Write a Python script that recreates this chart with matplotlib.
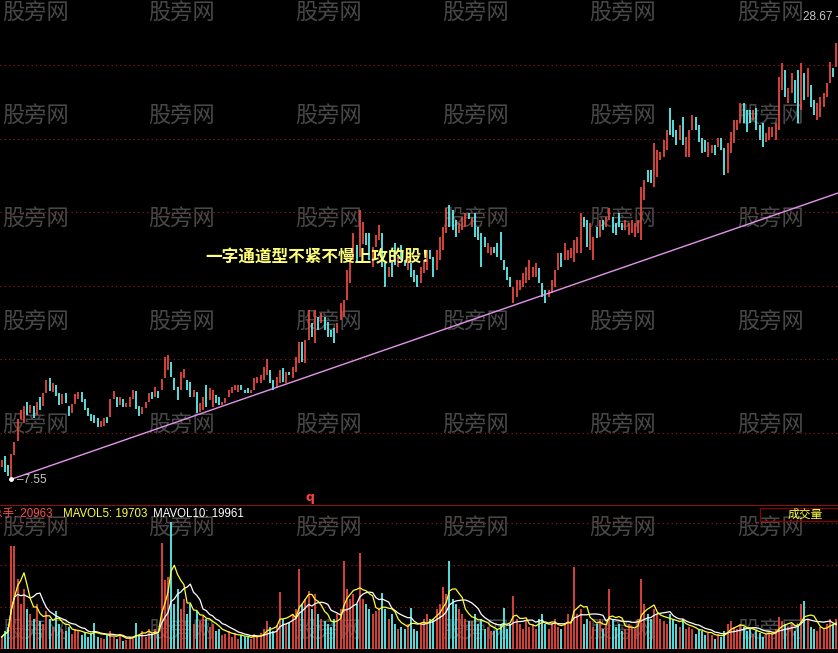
import numpy as np
import pandas as pd
import matplotlib
matplotlib.use("Agg")
import matplotlib.pyplot as plt
from matplotlib.patches import Rectangle

# =============================
# Data
# =============================
opens = [
    8.10, 8.60, 8.20, 7.55, 8.65, 9.30, 10.30, 10.10, 11.10, 10.60,
    10.90, 10.50, 11.30, 10.90, 11.50, 12.20, 11.55, 11.85, 11.50, 11.00,
    11.50, 10.90, 10.60, 11.00, 11.20, 11.55, 11.20, 10.80, 10.55, 10.50,
    10.35, 9.95,
    10.00, 10.40, 10.40, 11.20, 11.30, 10.95, 11.20, 10.85,
    10.85, 11.20, 11.60, 10.90, 10.55, 10.80, 11.10, 11.55, 11.30, 11.60, 11.65, 12.20,
    12.54, 12.91, 12.18, 11.76, 11.63, 12.20, 12.08, 11.99, 11.31, 11.54,
    10.62, 10.71, 11.86, 11.17, 10.85, 11.40, 11.31, 10.94,
    11.03, 11.31, 11.49, 11.63, 11.54, 11.86, 11.63,
    11.72, 11.49, 11.63, 11.95, 11.95, 12.08, 12.31, 12.54, 12.08, 11.76, 11.95, 12.63, 11.95, 12.45,
    12.18, 12.45, 12.86, 13.82, 12.86, 13.91, 14.69, 13.78, 14.96, 14.69, 14.96, 14.73, 14.37, 14.46, 14.23,
    14.83, 14.96, 15.74, 16.52, 17.57, 18.25, 17.70, 18.30, 18.80, 18.80, 17.25, 18.16,
    18.48, 18.80, 17.43, 16.79, 17.48, 18.34, 17.25, 18.25, 17.57,
    17.11, 17.43, 17.11, 16.88, 16.52, 16.97, 17.11, 18.02,
    17.70, 17.11, 17.57, 18.02, 18.80, 20.08, 19.85, 19.40, 18.80, 18.94, 19.08, 19.72,
    19.08, 19.72, 19.08, 18.80, 18.62, 17.89, 17.80, 18.16,
    18.34, 18.85, 17.57, 17.25, 16.79, 15.60, 15.88, 16.20, 16.33, 16.52,
    16.65, 16.79, 16.79, 17.20, 16.52, 16.20, 15.88, 16.06, 16.33,
    17.11, 17.89, 17.57, 17.57, 17.66, 17.48, 17.89, 17.89, 19.53, 19.40,
    18.02, 17.57, 19.08, 18.62, 19.40, 19.08, 19.40, 19.53, 19.26, 19.72,
    19.26, 18.94, 18.71, 18.80, 18.62, 18.80, 18.48, 20.31, 21.68, 21.68,
    20.90, 21.36, 22.14, 22.27, 22.59, 24.51, 23.96,
    23.51, 23.05, 24.10, 22.27, 22.27, 23.51, 24.10,
    23.74, 23.14, 23.05, 22.27, 22.46, 22.82, 22.73,
    23.14, 22.69, 21.54, 22.46, 22.91, 23.51, 23.83, 24.74, 24.42, 24.42,
    23.96, 24.51, 23.74, 23.83, 22.96, 23.05, 23.19, 23.05, 23.51,
    25.34, 26.25, 24.74, 25.20, 25.79, 26.25, 24.42, 26.11,
    25.02, 25.56, 24.88, 23.96, 24.10, 24.56, 25.02, 25.66, 26.34, 26.39,
]
closes = [
    8.45, 7.90, 7.70, 8.70, 9.25, 10.30, 10.70, 10.90, 10.50, 10.95,
    10.35, 11.10, 10.70, 11.50, 12.10, 11.60, 11.95, 11.35, 10.95, 11.45,
    11.05, 10.45, 11.00, 11.45, 11.55, 11.10, 10.70, 10.45, 10.20, 10.10,
    9.95, 10.20,
    10.35, 10.10, 11.20, 11.60, 10.85, 11.30, 10.85, 11.05,
    11.30, 11.65, 10.75, 10.45, 10.85, 11.10, 11.50, 11.20, 11.75, 11.25, 12.15, 13.15,
    13.22, 12.22, 11.62, 11.17, 12.45, 12.60, 11.62, 11.31, 11.62, 10.58,
    11.03, 11.31, 10.85, 11.72, 11.63, 11.03, 10.94, 11.10,
    11.26, 11.63, 11.76, 11.86, 11.86, 11.63, 11.50,
    11.49, 11.63, 12.18, 12.22, 12.31, 12.68, 13.04, 11.95, 11.63, 12.22, 12.54, 11.99, 12.45, 12.30,
    12.68, 13.13, 13.82, 12.91, 13.91, 15.28, 14.05, 15.28, 14.37, 15.14, 14.37, 14.05, 14.05, 13.78, 14.69,
    15.60, 15.74, 17.11, 17.57, 18.80, 17.48, 19.85, 19.30, 18.25, 17.57, 18.16, 18.70,
    19.16, 17.25, 16.33, 17.25, 16.79, 17.34, 17.70, 17.57, 17.30,
    17.70, 16.79, 16.56, 16.33, 17.25, 17.57, 18.02, 17.60,
    16.79, 18.02, 18.62, 19.07, 19.94, 19.07, 18.94, 18.62, 19.26, 19.53, 19.72, 19.45,
    19.53, 18.62, 18.48, 17.25, 18.16, 18.34, 18.16, 17.90,
    17.70, 17.57, 17.11, 16.65, 16.33, 16.33, 16.65, 16.65, 16.97, 17.25,
    17.57, 17.25, 17.43, 16.52, 15.88, 15.60, 16.20, 16.65, 17.11,
    17.89, 17.25, 18.34, 18.02, 18.12, 18.48, 18.62, 19.72, 19.08, 18.16,
    19.26, 18.62, 18.57, 19.40, 18.94, 19.53, 19.94, 18.80, 18.71, 19.08,
    18.94, 19.40, 19.26, 19.40, 19.26, 19.40, 20.90, 21.22, 21.13, 21.09,
    22.91, 22.59, 22.50, 23.05, 23.51, 23.28, 23.19,
    22.82, 23.74, 22.82, 23.19, 23.51, 24.19, 23.51,
    22.96, 22.46, 22.50, 22.96, 22.82, 22.36, 23.14,
    22.59, 21.45, 22.91, 23.42, 23.96, 23.96, 24.74, 23.83, 23.42, 23.83,
    24.42, 23.51, 23.05, 22.73, 23.37, 23.65, 23.65, 23.83, 25.93,
    26.57, 25.02, 25.43, 26.11, 24.74, 23.83, 26.57, 24.88,
    26.34, 24.56, 24.19, 24.74, 25.02, 25.20, 25.66, 26.62, 25.93, 27.48,
]
volumes = [
    12000, 18000, 22000, 103000, 103000, 70000, 45000, 60000, 40000, 35000,
    30000, 45000, 28000, 25000, 38000, 30000, 22000, 38000, 25000, 20000,
    18000, 22000, 15000, 20000, 18000, 14000, 16000, 12000, 15000, 26000,
    12000, 11000,
    10000, 14000, 18000, 12000, 10000, 15000, 8000, 9000,
    12000, 10000, 26000, 14000, 18000, 12000, 20000, 15000, 20000, 15000, 106000, 69000,
    72000, 127000, 45000, 60000, 40000, 50000, 35000, 45000, 25000, 38000,
    28000, 33000, 30000, 22000, 25000, 18000, 20000, 14000,
    15000, 18000, 12000, 16000, 10000, 14000, 12000,
    12000, 10000, 15000, 12000, 16000, 20000, 28000, 22000, 18000, 24000, 57000, 30000, 25000, 26000,
    35000, 40000, 80000, 45000, 50000, 58000, 40000, 55000, 35000, 30000, 28000, 25000, 22000, 30000,
    35000, 40000, 88000, 60000, 50000, 55000, 45000, 96000, 50000, 45000, 40000, 35000, 38000,
    40000, 56000, 40000, 30000, 35000, 25000, 20000, 22000, 20000,
    25000, 41000, 20000, 18000, 25000, 30000, 35000, 30000,
    30000, 40000, 45000, 62000, 55000, 88000, 50000, 45000, 40000, 35000, 30000, 28000,
    28000, 35000, 25000, 30000, 20000, 22000, 18000, 18000,
    20000, 25000, 41000, 20000, 25000, 53000, 30000, 25000, 20000, 28000,
    22000, 25000, 20000, 30000, 35000, 25000, 20000, 25000, 30000,
    22000, 20000, 25000, 35000, 28000, 82000,
    35000, 40000, 25000, 30000, 28000, 22000, 25000, 30000, 20000, 25000,
    60000, 30000, 22000, 25000, 18000, 20000, 25000, 22000, 20000, 30000,
    70000, 45000, 35000, 30000, 40000, 35000, 30000, 28000, 25000, 35000,
    30000, 25000, 22000, 30000, 20000, 22000, 20000,
    15000, 20000, 18000, 14000, 16000, 14000, 10000,
    15000, 12000, 18000, 25000, 28000, 22000, 20000, 25000, 22000, 18000,
    20000, 15000, 18000, 16000, 12000, 14000, 18000, 15000, 20000,
    32000, 28000, 25000, 22000, 25000, 18000, 25000, 45000,
    48000, 30000, 22000, 20000, 18000, 22000, 20000, 25000, 30000, 25000, 30000,
]

price_grid = [9.68, 13.04, 16.40, 19.76, 23.12, 26.48]
vol_grid = [42000, 84000, 126000]
low_idx, low_price = 3, 7.55
high_label = "28.67"
trend_end_price = 20.63

title_text = "一字通道型不紧不慢上攻的股！"
watermark = "股旁网"

RED = "#E8483E"
CYAN = "#5CF0F0"
GRID = "#A01818"

opens = np.array(opens)
closes = np.array(closes)
volumes = np.array(volumes)
n = len(opens)
idx = np.arange(n)
up = closes >= opens
colors = np.where(up, RED, CYAN)

ma5 = pd.Series(volumes).rolling(5, min_periods=1).mean()
ma10 = pd.Series(volumes).rolling(10, min_periods=1).mean()

W, H = 838, 653
fig = plt.figure(figsize=(W / 100, H / 100), dpi=100, facecolor="black")

def fx(px):
    return px / W

def fy(py):
    return 1 - py / H

# watermarks behind everything
for wy in [12, 115, 218, 321, 424, 527, 630]:
    for wx in [2, 148, 295, 442, 589, 737]:
        fig.text(fx(wx), fy(wy), watermark, color="#484848", fontsize=16,
                 va="center", ha="left", family=["Noto Sans CJK SC"], zorder=-5)

# =============================
# Price panel
# =============================
ax = fig.add_axes([0, fy(497), 1, 497 / H])
ax.set_facecolor("none")
ax.set_xlim(-0.5, n - 0.5)
ax.set_ylim(6.74, 29.45)
ax.set_axis_off()
for g in price_grid:
    ax.axhline(g, color=GRID, lw=0.8, ls=(0, (1, 3)))

ax.vlines(idx, np.minimum(opens, closes), np.maximum(opens, closes),
          colors=colors, lw=1.3)

ax.plot([low_idx, n - 0.5], [low_price, trend_end_price], color="#E494EC", lw=1.0)
ax.plot([low_idx], [low_price], "o", color="white", ms=2.5)

fig.text(fx(17), fy(480), "–" + "%.2f" % low_price, color="#C8C8C8", fontsize=8.5,
         va="center", family=["Liberation Sans"])
fig.text(fx(803), fy(17), high_label + " -", color="#C8C8C8", fontsize=8.5,
         va="center", family=["Liberation Sans"])
fig.text(fx(205), fy(257), title_text, color="#FFFF7A", fontsize=12, fontweight="bold",
         va="center", family=["Noto Sans CJK SC"])
fig.text(fx(305), fy(497), "q", color="#FF4040", fontsize=9, fontweight="bold",
         va="center", family=["DejaVu Sans"])

# =============================
# Volume panel
# =============================
vax = fig.add_axes([0, fy(649), 1, 144 / H])
vax.set_facecolor("none")
vax.set_xlim(-0.5, n - 0.5)
vax.set_ylim(0, 144000)
vax.set_axis_off()
vax.axhline(144000, color="#B01010", lw=1.2)
vax.axhline(0, color="#B01010", lw=1.2)
for g in vol_grid:
    vax.axhline(g, color=GRID, lw=0.8, ls=(0, (1, 3)))
vax.vlines(idx, 0, volumes, colors=colors, lw=1.3)
vax.plot(idx, ma10, color="white", lw=0.9)
vax.plot(idx, ma5, color="#FFFF30", lw=0.9)

hdr_font = ["Liberation Sans", "Noto Sans CJK SC"]
fig.text(fx(-9), fy(514), "总手: 20963", color="#FF5050", fontsize=8.3, va="center", family=hdr_font)
fig.text(fx(63), fy(514), "MAVOL5: 19703", color="#FFFF40", fontsize=8.3, va="center", family=hdr_font)
fig.text(fx(153), fy(514), "MAVOL10: 19961", color="white", fontsize=8.3, va="center", family=hdr_font)
fig.text(fx(788), fy(514), "成交量", color="#FFFF40", fontsize=8.5, va="center", family=["Noto Sans CJK SC"])
fig.patches.append(Rectangle((fx(760), fy(521)), fx(80), 13 / H, transform=fig.transFigure,
                             fill=False, edgecolor="#900000", lw=0.8))

fig.savefig("out.png", dpi=100, facecolor="black")
